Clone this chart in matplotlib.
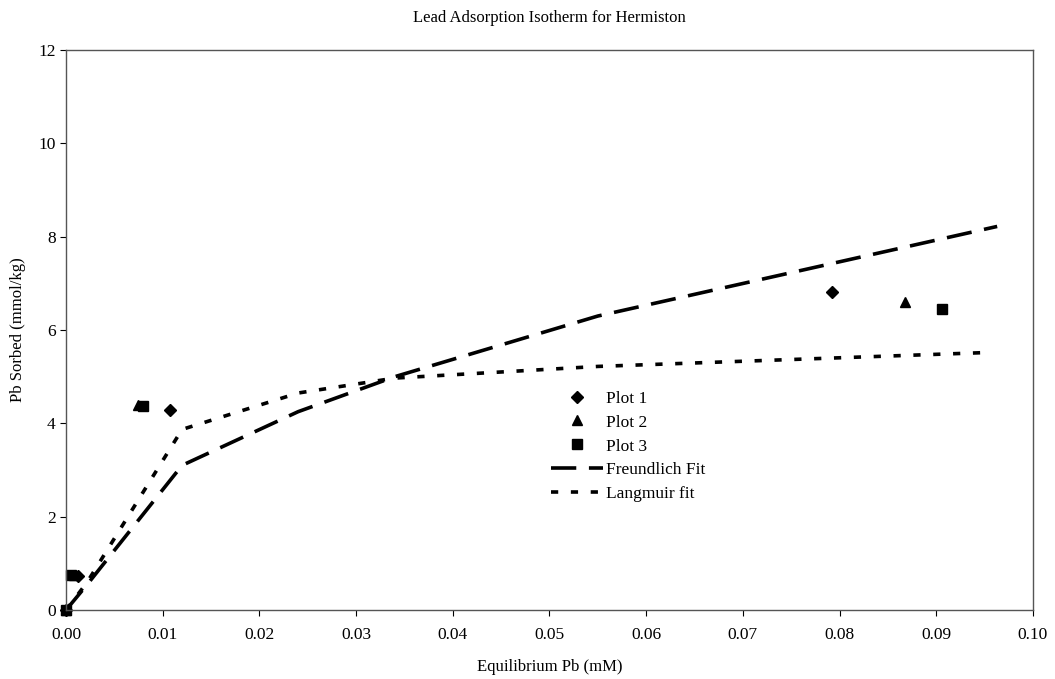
import numpy as np
import matplotlib.pyplot as plt

plt.rcParams['font.family'] = ['Liberation Serif', 'DejaVu Serif']

# measured data
plot1_x = [0.0, 0.0012, 0.0108, 0.0792]
plot1_y = [0.0, 0.72, 4.28, 6.82]
plot2_x = [0.0, 0.0008, 0.0074, 0.0868]
plot2_y = [0.0, 0.75, 4.40, 6.60]
plot3_x = [0.0, 0.0005, 0.0080, 0.0906]
plot3_y = [0.0, 0.74, 4.37, 6.46]

# fitted curves
freund_x = [0.0, 0.0022, 0.012, 0.024, 0.034, 0.055, 0.0963]
freund_y = [0.0, 0.55, 3.10, 4.25, 5.00, 6.30, 8.22]
lang_x = [0.0, 0.0022, 0.012, 0.024, 0.034, 0.055, 0.0955]
lang_y = [0.0, 0.60, 3.87, 4.65, 4.97, 5.22, 5.52]

xticks = np.arange(0, 0.1001, 0.01)
yticks = np.arange(0, 13, 2)

fig = plt.figure(figsize=(10.55, 6.79), dpi=100)
ax = fig.add_axes([0.0626, 0.1016, 0.9165, 0.8247])

ax.plot(plot1_x, plot1_y, 'D', color='black', ms=6, label='Plot 1', clip_on=False)
ax.plot(plot2_x, plot2_y, '^', color='black', ms=7, label='Plot 2', clip_on=False)
ax.plot(plot3_x, plot3_y, 's', color='black', ms=7, label='Plot 3', clip_on=False)
ax.plot(freund_x, freund_y, color='black', lw=2.6, dashes=(7, 3.5), label='Freundlich Fit')
ax.plot(lang_x, lang_y, color='black', lw=2.6, dashes=(2, 3.5), label='Langmuir fit')

ax.set_xlim(0, 0.1)
ax.set_ylim(0, 12)
ax.set_xticks(xticks)
ax.set_xticklabels(['%.2f' % t for t in xticks])
ax.set_yticks(yticks)
ax.tick_params(axis='both', labelsize=12.5, direction='out', length=4, width=0.8, colors='black')
ax.tick_params(axis='x', pad=8)

for sp in ax.spines.values():
    sp.set_color('#555555')
    sp.set_linewidth(1.0)

ax.set_title('Lead Adsorption Isotherm for Hermiston', fontsize=12, pad=20)
ax.set_xlabel('Equilibrium Pb (mM)', fontsize=12, labelpad=12)
ax.set_ylabel('Pb Sorbed (mmol/kg)', fontsize=12, labelpad=9)

ax.legend(loc='upper left', bbox_to_anchor=(0.485, 0.42), frameon=False, fontsize=12.5,
          handlelength=3, handletextpad=0.2, labelspacing=0.45)

fig.savefig('out.png', dpi=100, facecolor='white')
